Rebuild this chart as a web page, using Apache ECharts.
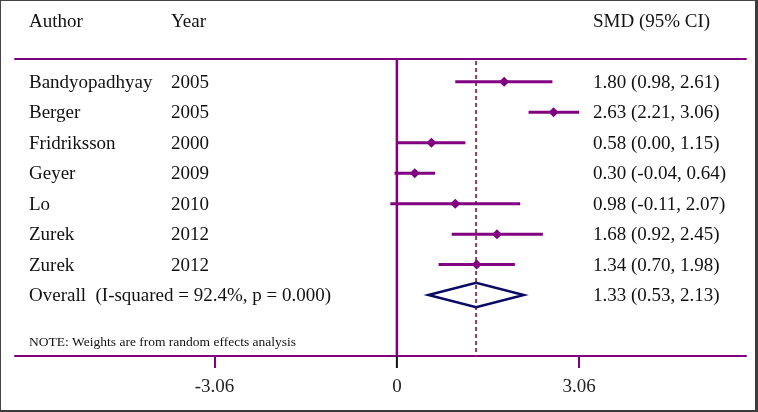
<!DOCTYPE html>
<html>
<head>
<meta charset="utf-8">
<script src="https://cdn.jsdelivr.net/npm/echarts@6/dist/echarts.min.js"></script>
<style>
  body { margin: 0; background: #fff; }
  #main { position: absolute; left: 0; top: 0; width: 758px; height: 412px; }
  #frame { position: absolute; left: 0; top: 0; width: 758px; height: 412px; box-sizing: border-box;
    border-left: 1px solid #444; border-top: 1px solid #444; border-right: 3px solid #3c3c3c; border-bottom: 2px solid #3c3c3c; pointer-events: none; }
</style>
</head>
<body>
<div id="main"></div>
<div id="frame"></div>
<script>
// 森林图数据
var authors = ['Bandyopadhyay', 'Berger', 'Fridriksson', 'Geyer', 'Lo', 'Zurek', 'Zurek']
var years = ['2005', '2005', '2000', '2009', '2010', '2012', '2012']
var smd = [1.80, 2.63, 0.58, 0.30, 0.98, 1.68, 1.34]
var lower = [0.98, 2.21, 0.00, -0.04, -0.11, 0.92, 0.70]
var upper = [2.61, 3.06, 1.15, 0.64, 2.07, 2.45, 1.98]
var overall = { label: 'Overall  (I-squared = 92.4%, p = 0.000)', est: 1.33, lo: 0.53, hi: 2.13 }
var tickValues = [-3.06, 0, 3.06]
var note = 'NOTE: Weights are from random effects analysis'

var purple = '#800080'
var font = 'Liberation Serif'

function fmt(v) {
  return v.toFixed(2)
}

var studyData = smd.map(function (v, i) {
  return [lower[i], upper[i], v, i + 1]
})

// 文字行：[作者, 年份, SMD文字, 行号]
var textRows = [['Author', 'Year', 'SMD (95% CI)', -1]]
authors.forEach(function (a, i) {
  textRows.push([a, years[i], fmt(smd[i]) + ' (' + fmt(lower[i]) + ', ' + fmt(upper[i]) + ')', i + 1])
})
textRows.push([overall.label, '', fmt(overall.est) + ' (' + fmt(overall.lo) + ', ' + fmt(overall.hi) + ')', 8])

var yMin = 0.25
var yMax = 10

var chart = echarts.init(document.getElementById('main'))
var option = {
  animation: false,
  grid: { left: 15, right: 12, top: 59, bottom: 56 },
  xAxis: [
    {
      type: 'value',
      min: -6.41,
      max: 5.86,
      position: 'bottom',
      splitLine: { show: false },
      axisLine: { show: true, lineStyle: { color: purple, width: 2 } },
      axisTick: { show: true, customValues: [-3.06, 3.06], length: 12, lineStyle: { color: purple, width: 2 } },
      axisLabel: {
        customValues: tickValues,
        margin: 22,
        color: '#222',
        fontFamily: font,
        fontSize: 19,
        formatter: function (v) {
          return v === 0 ? '0' : fmt(v)
        },
      },
    },
    {
      type: 'value',
      min: -6.41,
      max: 5.86,
      position: 'top',
      splitLine: { show: false },
      axisLine: { show: true, lineStyle: { color: purple, width: 2 } },
      axisTick: { show: false },
      axisLabel: { show: false },
    },
  ],
  yAxis: {
    type: 'value',
    inverse: true,
    min: yMin,
    max: yMax,
    show: false,
  },
  series: [
    // 参考线：0 与 合并效应
    {
      type: 'custom',
      clip: false,
      data: [[0, overall.est]],
      renderItem: function (params, api) {
        var z0 = api.coord([0, yMin])
        var z1 = api.coord([0, yMax])
        var d0 = api.coord([api.value(1), yMin])
        var d1 = api.coord([api.value(1), yMax])
        return {
          type: 'group',
          children: [
            { type: 'line', shape: { x1: z0[0], y1: z0[1], x2: z1[0], y2: z1[1] }, style: { stroke: purple, lineWidth: 2.5 } },
            { type: 'line', shape: { x1: z1[0], y1: z1[1], x2: z1[0], y2: z1[1] + 12 }, style: { stroke: '#111', lineWidth: 2 } },
            { type: 'line', shape: { x1: d0[0], y1: d0[1] + 2, x2: d1[0], y2: d1[1] }, style: { stroke: '#8c3a4e', lineWidth: 2, lineDash: [4, 3] } },
          ],
        }
      },
    },
    // 各研究置信区间
    {
      type: 'custom',
      clip: false,
      data: studyData,
      renderItem: function (params, api) {
        var a = api.coord([api.value(0), api.value(3)])
        var b = api.coord([api.value(1), api.value(3)])
        var c = api.coord([api.value(2), api.value(3)])
        var s = 5
        return {
          type: 'group',
          children: [
            { type: 'line', shape: { x1: a[0], y1: a[1], x2: b[0], y2: b[1] }, style: { stroke: purple, lineWidth: 3 } },
            {
              type: 'polygon',
              shape: { points: [[c[0] - s, c[1]], [c[0], c[1] - s], [c[0] + s, c[1]], [c[0], c[1] + s]] },
              style: { fill: purple },
            },
          ],
        }
      },
    },
    // 合并效应菱形
    {
      type: 'custom',
      clip: false,
      data: [[overall.lo, overall.hi, overall.est, 8]],
      renderItem: function (params, api) {
        var r = api.value(3)
        var l = api.coord([api.value(0), r])
        var h = api.coord([api.value(1), r])
        var top = api.coord([api.value(2), r - 0.4])
        var bot = api.coord([api.value(2), r + 0.4])
        return {
          type: 'polygon',
          shape: { points: [l, top, h, bot] },
          style: { fill: 'none', stroke: '#0a0a66', lineWidth: 2.5 },
        }
      },
    },
    // 文字列
    {
      type: 'custom',
      clip: false,
      data: textRows.map(function (r) {
        return [0, r[3]]
      }),
      renderItem: function (params, api) {
        var row = textRows[params.dataIndex]
        var y = api.coord([0, row[3]])[1] + 1
        var base = { fill: '#111', font: '19px "' + font + '"', verticalAlign: 'middle', textAlign: 'left' }
        return {
          type: 'group',
          children: [
            { type: 'text', style: Object.assign({ x: 29, y: y, text: row[0] }, base) },
            { type: 'text', style: Object.assign({ x: 171, y: y, text: row[1] }, base) },
            { type: 'text', style: Object.assign({ x: 593, y: y, text: row[2] }, base) },
          ],
        }
      },
    },
    {
      type: 'custom',
      clip: false,
      data: [[0, 9.55]],
      renderItem: function (params, api) {
        var y = api.coord([0, api.value(1)])[1]
        return {
          type: 'text',
          style: { x: 29, y: y, text: note, fill: '#111', font: '13.5px "' + font + '"', verticalAlign: 'middle' },
        }
      },
    },
  ],
}
chart.setOption(option)
</script>
</body>
</html>
